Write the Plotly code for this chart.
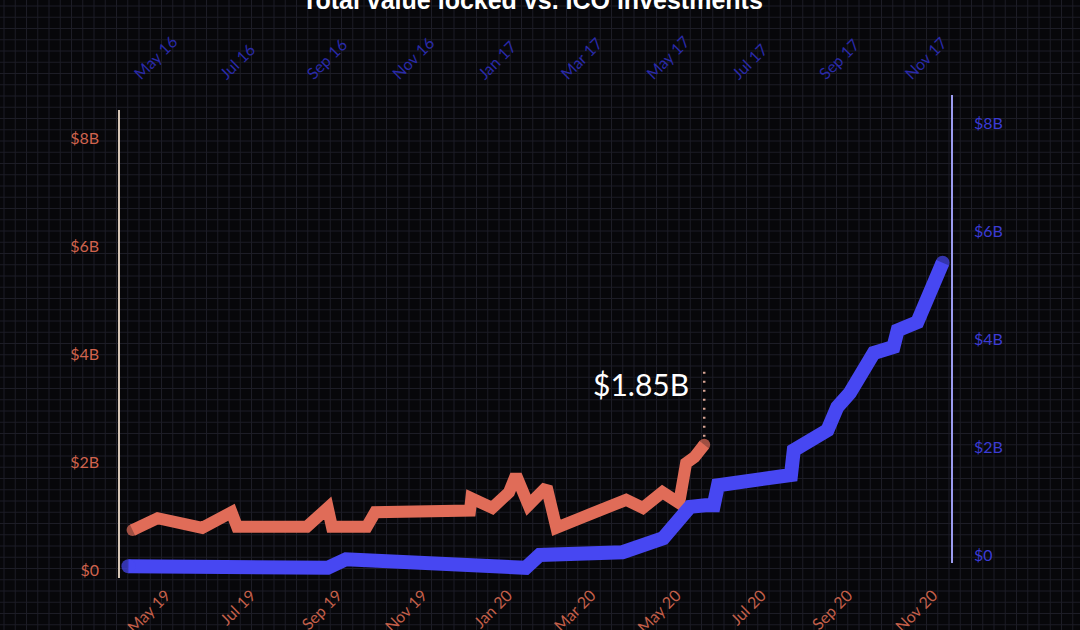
import plotly.graph_objects as go

W, H = 1080, 630

# ---------------- data (values in $ billions) ----------------
tvl_dates = ["2019-04-07", "2019-04-25", "2019-05-27", "2019-06-17", "2019-06-21",
             "2019-08-10", "2019-08-25", "2019-08-28", "2019-09-22", "2019-09-28",
             "2019-12-05", "2019-12-06", "2019-12-21", "2020-01-02", "2020-01-07",
             "2020-01-16", "2020-01-29", "2020-02-05", "2020-02-22", "2020-03-26",
             "2020-04-07", "2020-04-21", "2020-05-03", "2020-05-08", "2020-05-14",
             "2020-05-21"]
tvl_values = [0.74, 0.96, 0.78, 1.07, 0.80,
              0.80, 1.15, 0.80, 0.80, 1.07,
              1.10, 1.33, 1.15, 1.44, 1.76,
              1.20, 1.54, 0.78, 0.96, 1.30,
              1.15, 1.44, 1.24, 1.98, 2.09,
              2.32]

ico_dates = ["2016-04-26", "2016-09-15", "2016-09-28", "2017-02-03", "2017-02-13",
             "2017-04-13", "2017-05-12", "2017-05-24", "2017-05-31", "2017-06-11",
             "2017-06-17", "2017-06-20", "2017-07-13", "2017-08-11", "2017-08-13",
             "2017-09-06", "2017-09-13", "2017-09-22", "2017-10-09", "2017-10-23",
             "2017-10-26", "2017-11-09", "2017-11-27"]
ico_values = [0.07, 0.04, 0.20, 0.04, 0.28,
              0.33, 0.59, 0.93, 1.17, 1.20,
              1.20, 1.57, 1.67, 1.76, 2.22,
              2.59, 3.02, 3.28, 4.02, 4.13,
              4.44, 4.59, 5.69]

bottom_tick_dates = ["2019-05-01", "2019-07-01", "2019-09-01", "2019-11-01", "2020-01-01",
                     "2020-03-01", "2020-05-01", "2020-07-01", "2020-09-01", "2020-11-01"]
bottom_tick_labels = ["May 19", "Jul 19", "Sep 19", "Nov 19", "Jan 20",
                      "Mar 20", "May 20", "Jul 20", "Sep 20", "Nov 20"]
top_tick_dates = ["2016-05-01", "2016-07-01", "2016-09-01", "2016-11-01", "2017-01-01",
                  "2017-03-01", "2017-05-01", "2017-07-01", "2017-09-01", "2017-11-01"]
top_tick_labels = ["May 16", "Jul 16", "Sep 16", "Nov 16", "Jan 17",
                   "Mar 17", "May 17", "Jul 17", "Sep 17", "Nov 17"]
y_tick_values = [0, 2, 4, 6, 8]
y_tick_labels = ["$0", "$2B", "$4B", "$6B", "$8B"]

title_text = "Total value locked vs. ICO investments"
callout_text = "$1.85B"
callout_y = 3.45
dots_top = 3.67

# ---------------- styles ----------------
BG = "#07070a"
GRID = "#1d1d26"
RED = "#e06c58"
BLUE = "#4747f2"
FONT = "Lato"

fig = go.Figure()

# background grid (decoration)
step = 11.25
x = 4.0
while x < W:
    fig.add_shape(type="line", xref="paper", yref="paper", x0=x / W, x1=x / W, y0=0, y1=1,
                  line=dict(color=GRID, width=1), layer="below")
    x += step
y = 6.0
while y < H:
    fig.add_shape(type="line", xref="paper", yref="paper", x0=0, x1=1, y0=1 - y / H, y1=1 - y / H,
                  line=dict(color=GRID, width=1), layer="below")
    y += step

red_sizes = [12] + [0] * (len(tvl_values) - 2) + [12]
blue_sizes = [14] + [0] * (len(ico_values) - 2) + [14]

fig.add_trace(go.Scatter(x=ico_dates, y=ico_values, xaxis="x2", yaxis="y",
                         mode="lines+markers", line=dict(color=BLUE, width=14),
                         marker=dict(size=blue_sizes, color=BLUE, line=dict(width=0)),
                         hoverinfo="skip", showlegend=False))
fig.add_trace(go.Scatter(x=tvl_dates, y=tvl_values, xaxis="x", yaxis="y",
                         mode="lines+markers", line=dict(color=RED, width=12),
                         marker=dict(size=red_sizes, color=RED, line=dict(width=0)),
                         hoverinfo="skip", showlegend=False))
# holder so the right-hand axis pair is drawn
fig.add_trace(go.Scatter(x=[None], y=[None], xaxis="x2", yaxis="y2",
                         mode="lines", hoverinfo="skip", showlegend=False))

fig.add_shape(type="line", xref="x", yref="y",
              x0=tvl_dates[-1], x1=tvl_dates[-1], y0=tvl_values[-1] + 0.15, y1=dots_top,
              line=dict(color="#d9a595", width=2.5, dash="2px,7px"))

fig.add_annotation(xref="x", yref="y", x=tvl_dates[-1], y=callout_y, text=callout_text,
                   xanchor="right", yanchor="middle", xshift=-13, showarrow=False,
                   font=dict(family=FONT, size=30, color="#ffffff"))

fig.add_annotation(xref="paper", yref="paper", x=532 / W, y=1 - 16 / H, text="<b>" + title_text + "</b>",
                   xanchor="center", yanchor="bottom", showarrow=False,
                   font=dict(family="Liberation Sans", size=25, color="#ffffff"))

xdom = [120 / W, 951 / W]
fig.update_layout(
    width=W, height=H, margin=dict(l=0, r=0, t=0, b=0, autoexpand=False),
    paper_bgcolor=BG, plot_bgcolor="rgba(0,0,0,0)", showlegend=False,
    font=dict(family=FONT),
    xaxis=dict(domain=xdom, anchor="y", side="bottom", type="date", automargin=False,
               range=["2019-03-29", "2020-11-14"],
               tickmode="array", tickvals=bottom_tick_dates, ticktext=bottom_tick_labels,
               tickangle=-45, tickfont=dict(family=FONT, size=16, color="#c35f49"),
               showgrid=False, zeroline=False, showline=False, ticks="",
               ticklabelstandoff=4),
    yaxis=dict(domain=[1 - 578 / H, 1 - 110 / H], anchor="x", side="left", automargin=False,
               range=[-0.148, 8.52],
               tickmode="array", tickvals=y_tick_values, ticktext=y_tick_labels,
               tickfont=dict(family=FONT, size=16, color="#d0634d"),
               showgrid=False, zeroline=False, showline=True, linecolor="#d6c6b6", linewidth=1.5,
               ticks="", ticklabelstandoff=16),
    xaxis2=dict(domain=xdom, anchor="y2", side="top", type="date", automargin=False,
                range=["2016-04-20", "2017-12-03"],
                tickmode="array", tickvals=top_tick_dates, ticktext=top_tick_labels,
                tickangle=-45, tickfont=dict(family=FONT, size=16, color="#2a2aa8"),
                showgrid=False, zeroline=False, showline=False, ticks="",
                ticklabelstandoff=8),
    yaxis2=dict(domain=[1 - 563 / H, 1 - 95 / H], anchor="x2", side="right", automargin=False,
                range=[-0.148, 8.52],
                tickmode="array", tickvals=y_tick_values, ticktext=y_tick_labels,
                tickfont=dict(family=FONT, size=16, color="#3b3bd4"),
                showgrid=False, zeroline=False, showline=True, linecolor="#9c9cf0", linewidth=1.5,
                ticks="", ticklabelstandoff=18),
)

post = ("document.documentElement.style.margin='0';"
        "document.body.style.margin='0';"
        "document.body.style.overflow='hidden';"
        "document.body.style.background='" + BG + "';"
        "var gd=document.getElementById('{plot_id}');"
        "gd.style.position='fixed';gd.style.left='0px';gd.style.top='0px';")

fig.write_html("out.html", config={"responsive": False, "displayModeBar": False},
               post_script=post)
